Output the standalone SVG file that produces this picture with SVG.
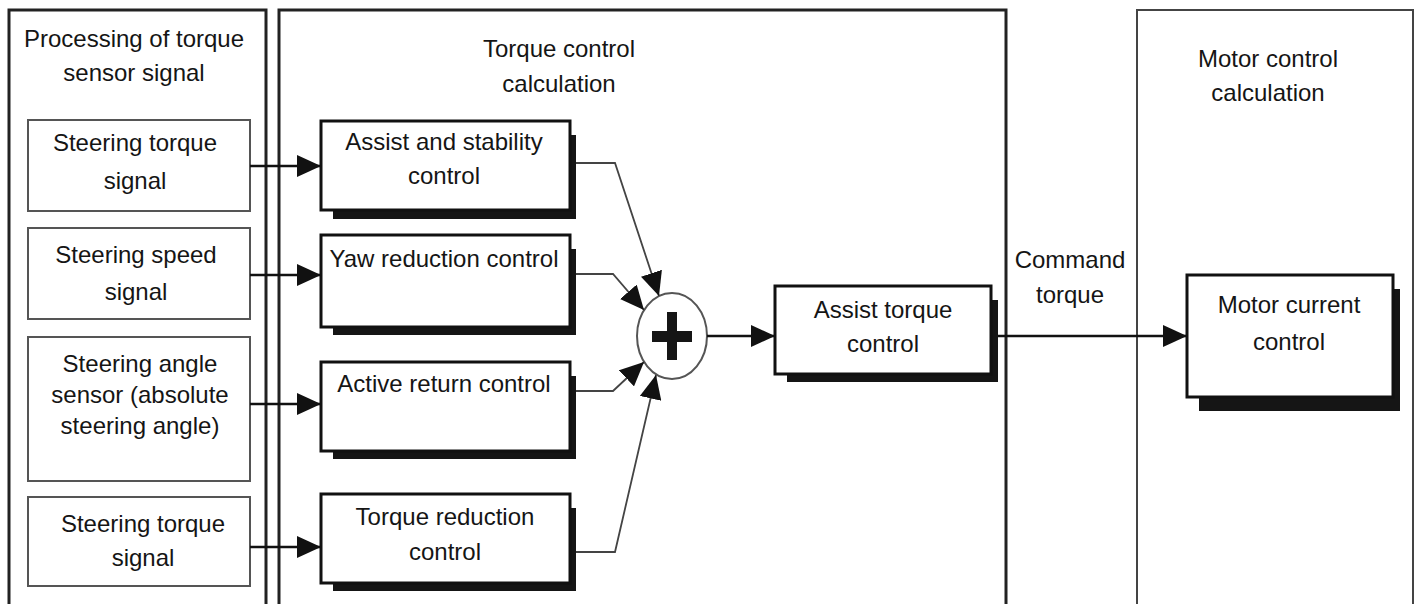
<svg xmlns="http://www.w3.org/2000/svg" width="1417" height="604" viewBox="0 0 1417 604">
<style>
text{font-family:"Liberation Sans",Arial,sans-serif;font-size:24px;fill:#151515;text-anchor:middle}
.panel{fill:none;stroke:#222;stroke-width:3}
.inbox{fill:#fff;stroke:#555;stroke-width:2}
.box{fill:#fff;stroke:#111;stroke-width:3}
.shadow{fill:#151515}
.conn{fill:none;stroke:#111;stroke-width:2.5}
.thin{fill:none;stroke:#444;stroke-width:1.8}
</style>
<defs>
<marker id="ah" markerUnits="userSpaceOnUse" markerWidth="24" markerHeight="22" refX="24" refY="11" orient="auto">
<path d="M0,0 L24,11 L0,22 z" fill="#111"/>
</marker>
</defs>
<rect width="1417" height="604" fill="#fff"/>

<g id="panel-processing">
<rect class="panel" x="9" y="10" width="257" height="610"/>
<text x="134" y="47">Processing of torque</text>
<text x="134" y="81">sensor signal</text>
</g>
<g id="panel-torque">
<rect class="panel" x="279" y="10" width="727" height="610"/>
<text x="559" y="57">Torque control</text>
<text x="559" y="92">calculation</text>
</g>
<g id="panel-motor">
<rect class="panel" x="1137" y="10" width="276" height="610" style="stroke:#444;stroke-width:2"/>
<text x="1268" y="67">Motor control</text>
<text x="1268" y="101">calculation</text>
</g>

<g id="in-torque1">
<rect class="inbox" x="28" y="120" width="222" height="91"/>
<text x="135" y="151">Steering torque</text>
<text x="135" y="189">signal</text>
</g>
<g id="in-speed">
<rect class="inbox" x="28" y="228" width="222" height="91"/>
<text x="136" y="263">Steering speed</text>
<text x="136" y="300">signal</text>
</g>
<g id="in-angle">
<rect class="inbox" x="28" y="337" width="222" height="144"/>
<text x="140" y="372">Steering angle</text>
<text x="140" y="403">sensor (absolute</text>
<text x="140" y="434">steering angle)</text>
</g>
<g id="in-torque2">
<rect class="inbox" x="28" y="497" width="222" height="89"/>
<text x="143" y="532">Steering torque</text>
<text x="143" y="566">signal</text>
</g>

<g id="assist-stability">
<rect class="shadow" x="333" y="135" width="243" height="84"/>
<rect class="box" x="321" y="121" width="249" height="89"/>
<text x="444" y="150">Assist and stability</text>
<text x="444" y="184">control</text>
</g>
<g id="yaw-reduction">
<rect class="shadow" x="333" y="249" width="243" height="86"/>
<rect class="box" x="321" y="235" width="249" height="92"/>
<text x="444" y="267">Yaw reduction control</text>
</g>
<g id="active-return">
<rect class="shadow" x="333" y="376" width="243" height="83"/>
<rect class="box" x="321" y="362" width="249" height="89"/>
<text x="444" y="392">Active return control</text>
</g>
<g id="torque-reduction">
<rect class="shadow" x="333" y="508" width="243" height="83"/>
<rect class="box" x="321" y="494" width="249" height="89"/>
<text x="445" y="525">Torque reduction</text>
<text x="445" y="560">control</text>
</g>

<g id="sum">
<ellipse cx="672" cy="336" rx="35" ry="43" fill="#fff" stroke="#555" stroke-width="2"/>
<rect x="652" y="331" width="40" height="11" fill="#151515"/>
<rect x="667" y="312" width="10" height="48" fill="#151515"/>
</g>

<g id="assist-torque">
<rect class="shadow" x="787" y="300" width="211" height="82"/>
<rect class="box" x="775" y="286" width="216" height="88"/>
<text x="883" y="318">Assist torque</text>
<text x="883" y="352">control</text>
</g>

<g id="motor-current">
<rect class="shadow" x="1199" y="289" width="201" height="122"/>
<rect class="box" x="1187" y="275" width="206" height="122"/>
<text x="1289" y="313">Motor current</text>
<text x="1289" y="350">control</text>
</g>

<g id="connectors">
<path class="conn" d="M250,166 H321" marker-end="url(#ah)"/>
<path class="conn" d="M250,275 H321" marker-end="url(#ah)"/>
<path class="conn" d="M250,404 H321" marker-end="url(#ah)"/>
<path class="conn" d="M250,547 H321" marker-end="url(#ah)"/>
<path class="thin" d="M576,163 H615 L659,296" marker-end="url(#ah)"/>
<path class="thin" d="M576,274 H613 L644,310" marker-end="url(#ah)"/>
<path class="thin" d="M576,391 H613 L644,362" marker-end="url(#ah)"/>
<path class="thin" d="M576,552 H615 L656,375" marker-end="url(#ah)"/>
<path class="conn" d="M707,336 H775" marker-end="url(#ah)"/>
<path class="conn" d="M998,336 H1187" marker-end="url(#ah)"/>
<text x="1070" y="268">Command</text>
<text x="1070" y="303">torque</text>
</g>
</svg>
